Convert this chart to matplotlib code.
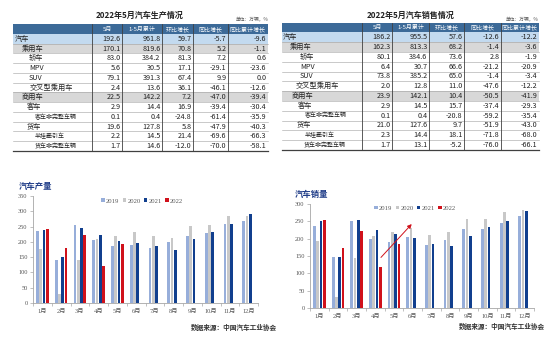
import numpy as np
import matplotlib
matplotlib.use('Agg')
import matplotlib.pyplot as plt
from matplotlib.patches import Rectangle

plt.rcParams['font.family'] = ['Noto Sans CJK SC', 'DejaVu Sans']
SERIF = ['Liberation Serif', 'Noto Sans CJK SC']

# ---- table data ----
rows = ['汽车', '乘用车', '轿车', 'MPV', 'SUV', '交叉型乘用车', '商用车', '客车',
        '客车非完整车辆', '货车', '半挂牵引车', '货车非完整车辆']
cols = ['5月', '1-5月累计', '环比增长', '同比增长', '同比累计增长']

prod_vals = [
    [192.6, 961.8, 59.7, -5.7, -9.6],
    [170.1, 819.6, 70.8, 5.2, -1.1],
    [83.0, 384.2, 81.3, 7.2, 0.6],
    [5.6, 30.5, 17.1, -29.1, -23.6],
    [79.1, 391.3, 67.4, 9.9, 0.0],
    [2.4, 13.6, 36.1, -46.1, -12.6],
    [22.5, 142.2, 7.2, -47.0, -39.4],
    [2.9, 14.4, 16.9, -39.4, -30.4],
    [0.1, 0.4, -24.8, -61.4, -35.9],
    [19.6, 127.8, 5.8, -47.9, -40.3],
    [2.2, 14.5, 21.4, -69.6, -66.3],
    [1.7, 14.6, -12.0, -70.0, -58.1],
]
sale_vals = [
    [186.2, 955.5, 57.6, -12.6, -12.2],
    [162.3, 813.3, 68.2, -1.4, -3.6],
    [80.1, 384.6, 73.6, 2.8, -1.9],
    [6.4, 30.7, 66.6, -21.2, -20.9],
    [73.8, 385.2, 65.0, -1.4, -3.4],
    [2.0, 12.8, 11.0, -47.6, -12.2],
    [23.9, 142.1, 10.4, -50.5, -41.9],
    [2.9, 14.5, 15.7, -37.4, -29.3],
    [0.1, 0.4, -20.8, -59.2, -35.4],
    [21.0, 127.6, 9.7, -51.9, -43.0],
    [2.3, 14.4, 18.1, -71.8, -68.0],
    [1.7, 13.1, -5.2, -76.0, -66.1],
]

# ---- chart data ----
months = ['1月', '2月', '3月', '4月', '5月', '6月', '7月', '8月', '9月', '10月', '11月', '12月']
years = ['2019', '2020', '2021', '2022']
prod_2019 = [236, 140, 255, 205, 185, 190, 180, 199, 220, 229, 259, 268]
prod_2020 = [176, 28, 142, 210, 218, 232, 220, 212, 252, 255, 284, 284]
prod_2021 = [238, 150, 246, 223, 204, 195, 186, 172, 208, 232, 258, 290]
prod_2022 = [242, 180, 224, 120, 193]
sale_2019 = [237, 148, 252, 198, 191, 205, 181, 196, 227, 228, 245, 266]
sale_2020 = [193, 31, 143, 207, 219, 232, 211, 218, 257, 257, 277, 283]
sale_2021 = [250, 146, 253, 225, 213, 201, 186, 180, 207, 233, 252, 279]
sale_2022 = [253, 174, 223, 118, 186]

W, H = 554, 342
HEAD = '#3C6A98'
BLUE_ROW = '#C3DAEF'
GRAY_ROW = '#D8D8D8'
row_fill = [BLUE_ROW, GRAY_ROW, None, None, None, None, GRAY_ROW, None, None, None, None, None]
small_rows = {'客车非完整车辆', '半挂牵引车', '货车非完整车辆'}
colors = ['#97AEDA', '#C8C8C8', '#113F8E', '#D0111B']


def box(x0, y0, x1, y1):
    return [x0 / W, 1 - y1 / H, (x1 - x0) / W, (y1 - y0) / H]


fig = plt.figure(figsize=(W / 100, H / 100), dpi=100)
bg = fig.add_axes([0, 0, 1, 1])
bg.set_xlim(0, W)
bg.set_ylim(H, 0)
bg.axis('off')


def draw_table(xe, top, rh, title, tx, vals, indents):
    bg.text(tx, 15, title, ha='center', va='center', fontsize=5.8, fontweight='bold', color='#222222')
    bg.text(xe[-1], 19.5, '单位：万辆，%', ha='right', va='center', fontsize=3.4, color='#555555')
    bg.add_patch(Rectangle((xe[0], top), xe[-1] - xe[0], rh, fc=HEAD, ec='none'))
    for j, c in enumerate(cols):
        bg.text((xe[j + 1] + xe[j + 2]) / 2, top + rh / 2, c, ha='center', va='center',
                fontsize=4.3, color='white')
    for i, name in enumerate(rows):
        y = top + (i + 1) * rh
        if row_fill[i]:
            bg.add_patch(Rectangle((xe[0], y), xe[-1] - xe[0], rh, fc=row_fill[i], ec='none'))
        bg.plot([xe[0], xe[-1]], [y + rh, y + rh], color='#A0A0A0', lw=0.4)
        fs = 4.3 if name in small_rows else 5.2
        bg.text(xe[0] + indents[i], y + rh / 2, name, ha='left', va='center', fontsize=fs, color='#222222')
        for j, v in enumerate(vals[i]):
            bg.text(xe[j + 2] - 1.5, y + rh / 2, f'{v:.1f}', ha='right', va='center',
                    fontsize=5.2, color='#222222')
    bottom = top + (len(rows) + 1) * rh
    for x in xe[1:-1]:
        bg.plot([x, x], [top, bottom], color='#404040', lw=0.6)
    bg.plot([xe[0], xe[-1]], [bottom, bottom], color='#404040', lw=0.9)


draw_table([13, 92, 122, 162, 193, 228, 268], 24.2, 9.75, '2022年5月汽车生产情况', 140,
           prod_vals, [2, 9, 16, 16, 16, 17, 9, 14, 22, 14, 22, 22])
draw_table([282, 362, 392, 429, 464, 501, 539], 22.5, 9.8, '2022年5月汽车销售情况', 411,
           sale_vals, [1, 8, 18, 18, 18, 14, 10, 16, 23, 15, 23, 22])


def draw_chart(rect, series, ymax, title, txy, sxy, legxy):
    ax = fig.add_axes(box(*rect))
    ax.patch.set_alpha(0)
    x = np.arange(len(months))
    w, step = 0.15, 0.175
    for k, vals in enumerate(series):
        ax.bar(x[:len(vals)] + (k - 1.5) * step, vals, w, color=colors[k], label=years[k])
    ax.set_xlim(-0.5, 11.5)
    ax.set_ylim(0, ymax)
    ax.set_yticks(range(0, ymax + 1, 50))
    ax.set_xticks(x)
    ax.set_xticklabels(months)
    ax.set_xticks(np.arange(-0.5, 12, 1), minor=True)
    ax.tick_params(axis='x', which='major', length=0, labelsize=4.6, pad=4, colors='#595959')
    ax.tick_params(axis='x', which='minor', length=2.5, width=0.5, color='#A6A6A6')
    ax.tick_params(axis='y', length=2, width=0.5, color='#A6A6A6', labelsize=4.6,
                   labelcolor='#595959', pad=2)
    for lab in ax.get_xticklabels() + ax.get_yticklabels():
        lab.set_family(SERIF)
    for s in ['top', 'right']:
        ax.spines[s].set_visible(False)
    for s in ['left', 'bottom']:
        ax.spines[s].set_color('#A6A6A6')
        ax.spines[s].set_linewidth(0.6)
    ax.legend(loc='center', bbox_to_anchor=legxy, ncol=4, frameon=False,
              handlelength=0.5, handleheight=0.5, handletextpad=0.2, columnspacing=0.5,
              prop={'family': SERIF, 'size': 4.8}, labelcolor='#595959')
    bg.text(txy[0], txy[1], title, ha='left', va='center', fontsize=6, fontweight='bold',
            color='#1F3C88')
    bg.text(sxy[0], sxy[1], '数据来源：中国汽车工业协会', ha='right', va='center', fontsize=4.8,
            fontweight='bold', color='#333333')
    return ax


draw_chart((33, 196, 258, 303), [prod_2019, prod_2020, prod_2021, prod_2022], 350,
           '汽车产量', (19, 186.5), (277, 327), (0.485, 0.953))
ax2 = draw_chart((310, 204, 534, 308), [sale_2019, sale_2020, sale_2021, sale_2022], 300,
                 '汽车销量', (295, 194), (545, 326), (0.47, 0.96))
ax2.annotate('', xy=(5.05, 248), xytext=(3.2, 140),
             arrowprops=dict(arrowstyle='-|>', color='#D0111B', lw=0.7, mutation_scale=6))

fig.savefig('out.png', dpi=100)
